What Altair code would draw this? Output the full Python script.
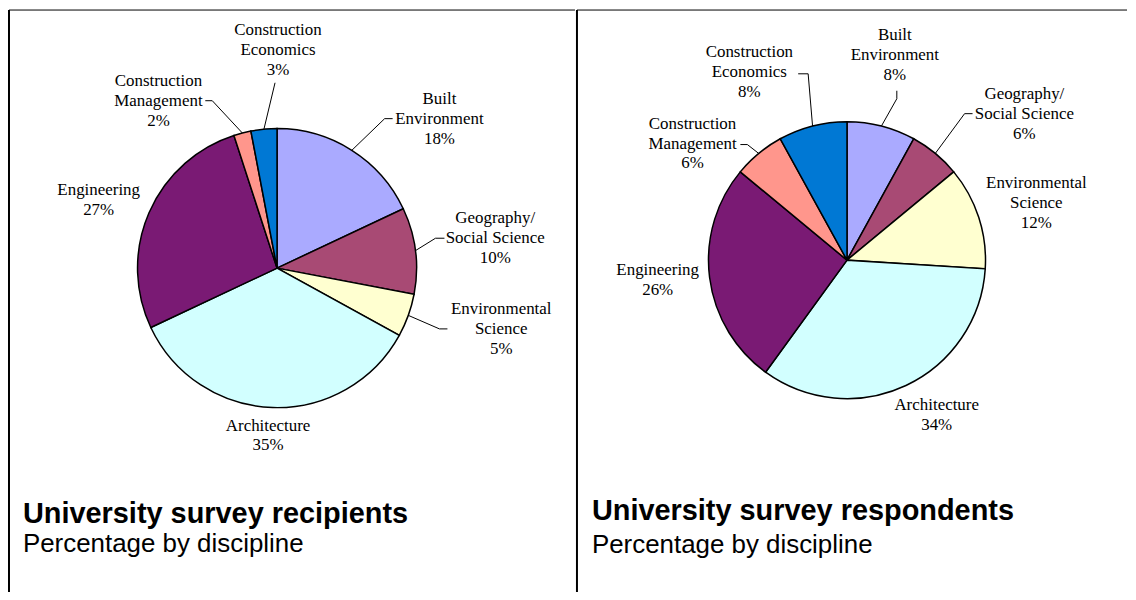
import math
import altair as alt
import pandas as pd

# ---------------- data ----------------
categories = ["Built Environment", "Geography/ Social Science", "Environmental Science",
              "Architecture", "Engineering", "Construction Management", "Construction Economics"]
label_names = ["Built\nEnvironment", "Geography/\nSocial Science", "Environmental\nScience",
               "Architecture", "Engineering", "Construction\nManagement", "Construction\nEconomics"]
recipients = [18, 10, 5, 35, 27, 2, 3]
respondents = [8, 6, 12, 34, 26, 6, 8]
titles = ["University survey recipients", "University survey respondents"]
subtitle = "Percentage by discipline"

# ---------------- styles / layout ----------------
colors = ["#AAAAFF", "#A84A74", "#FFFFD0", "#D2FFFF", "#7A1A74", "#FF968C", "#0078D4"]
PANEL_X = [8, 576]
PANEL_W = [568, 552]
PANEL_Y = 8
PANEL_H = 584
pie_center = [(277, 267), (847, 259)]
pie_radius = [140, 139]
# (centre x, first-line y) of each label, in page pixels
label_pos = [
    [(440, 97), (496, 217), (502, 308), (268, 425), (98, 189), (158, 79), (278, 28)],
    [(895, 33), (1025, 92), (1037, 182), (937, 404), (657, 269), (692, 122), (749, 50)],
]
leader_pts = [
    {0: [(385, 117), (393, 117)], 1: [(436, 237), (445, 237)], 2: [(440, 328), (448, 328)],
     5: [(212, 99), (205, 99)], 6: [(275, 81)]},
    {0: [(897, 97), (897, 89)], 1: [(965, 112), (973, 112)],
     5: [(747, 143), (740, 143)], 6: [(808, 72), (798, 72)]},
]
title_pos = [(22, 523, 552), (591, 520, 553)]


def panel(i, values):
    ox, oy = PANEL_X[i], PANEL_Y
    W, H = PANEL_W[i], PANEL_H
    cx, cy = pie_center[i][0] - ox, pie_center[i][1] - oy
    r = pie_radius[i]
    xs = alt.Scale(domain=[0, W], nice=False, zero=False)
    ys = alt.Scale(domain=[0, H], nice=False, zero=False, reverse=True)

    df = pd.DataFrame({"cat": categories, "value": values, "idx": list(range(len(values)))})
    pie = alt.Chart(df).mark_arc(radius=r, stroke="black", strokeWidth=1.5).encode(
        theta=alt.Theta("value:Q", stack=True),
        color=alt.Color("cat:N", scale=alt.Scale(domain=categories, range=colors), legend=None),
        order=alt.Order("idx:Q"),
        x=alt.value(cx),
        y=alt.value(cy),
    )

    # labels
    ldf = pd.DataFrame({
        "x": [p[0] - ox for p in label_pos[i]],
        "y": [p[1] - oy for p in label_pos[i]],
        "text": [f"{n}\n{v}%" for n, v in zip(label_names, values)],
    })
    labels = alt.Chart(ldf).mark_text(
        font="Liberation Serif", fontSize=17, lineBreak="\n", lineHeight=20,
        align="center", baseline="middle", color="black",
    ).encode(
        x=alt.X("x:Q", scale=xs, axis=None),
        y=alt.Y("y:Q", scale=ys, axis=None),
        text="text:N",
    )

    # leader lines: start at slice mid-angle on pie edge
    total = sum(values)
    cum = 0
    segs = []
    for k, v in enumerate(values):
        a = (cum + v / 2) / total * 2 * math.pi
        cum += v
        if k not in leader_pts[i]:
            continue
        pts = [(cx + r * math.sin(a), cy - r * math.cos(a))] + \
              [(px - ox, py - oy) for px, py in leader_pts[i][k]]
        for (x1, y1), (x2, y2) in zip(pts[:-1], pts[1:]):
            segs.append({"x": x1, "y": y1, "x2": x2, "y2": y2})
    sdf = pd.DataFrame(segs)
    leaders = alt.Chart(sdf).mark_rule(color="black", strokeWidth=1).encode(
        x=alt.X("x:Q", scale=xs, axis=None), y=alt.Y("y:Q", scale=ys, axis=None),
        x2="x2:Q", y2="y2:Q",
    )

    # frame
    fdf = pd.DataFrame([
        {"x": 0, "y": 0, "x2": 0, "y2": H, "w": 2},
        {"x": 0, "y": 0, "x2": W, "y2": 0, "w": 1},
    ])
    frame = alt.Chart(fdf).mark_rule(color="black").encode(
        x=alt.X("x:Q", scale=xs, axis=None), y=alt.Y("y:Q", scale=ys, axis=None),
        x2="x2:Q", y2="y2:Q",
        strokeWidth=alt.StrokeWidth("w:Q", scale=None),
    )

    tx, ty, sy = title_pos[i]
    tdf = pd.DataFrame([{"x": tx - ox, "y": ty - oy, "t": titles[i]}])
    sdf2 = pd.DataFrame([{"x": tx - ox, "y": sy - oy, "t": subtitle}])
    title = alt.Chart(tdf).mark_text(
        font="Liberation Sans", fontSize=29, fontWeight="bold", align="left",
        baseline="alphabetic", color="black",
    ).encode(x=alt.X("x:Q", scale=xs, axis=None), y=alt.Y("y:Q", scale=ys, axis=None), text="t:N")
    sub = alt.Chart(sdf2).mark_text(
        font="Liberation Sans", fontSize=26, align="left", baseline="alphabetic", color="black",
    ).encode(x=alt.X("x:Q", scale=xs, axis=None), y=alt.Y("y:Q", scale=ys, axis=None), text="t:N")

    return alt.layer(frame, pie, leaders, labels, title, sub).properties(width=W, height=H)


chart = alt.hconcat(panel(0, recipients), panel(1, respondents), spacing=0, padding=0) \
    .configure_view(stroke=None)

chart.save("out.html", embed_options={"renderer": "svg", "actions": False})
